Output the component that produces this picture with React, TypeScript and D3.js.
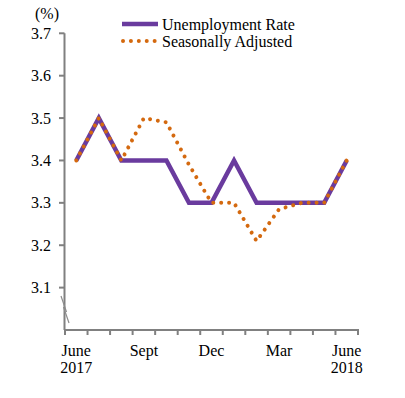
import React from "react";
import * as d3 from "d3";

const months = ["Jun17", "Jul17", "Aug17", "Sep17", "Oct17", "Nov17", "Dec17", "Jan18", "Feb18", "Mar18", "Apr18", "May18", "Jun18"];
const unemploymentRate = [3.4, 3.5, 3.4, 3.4, 3.4, 3.3, 3.3, 3.4, 3.3, 3.3, 3.3, 3.3, 3.4];
const seasonallyAdjusted = [3.4, 3.5, 3.4, 3.5, 3.49, 3.39, 3.3, 3.3, 3.21, 3.285, 3.3, 3.3, 3.4];
const yTicks = [3.1, 3.2, 3.3, 3.4, 3.5, 3.6, 3.7];
const xLabels: { month: string; lines: string[] }[] = [
  { month: "Jun17", lines: ["June", "2017"] },
  { month: "Sep17", lines: ["Sept"] },
  { month: "Dec17", lines: ["Dec"] },
  { month: "Mar18", lines: ["Mar"] },
  { month: "Jun18", lines: ["June", "2018"] },
];
const seriesNames = ["Unemployment Rate", "Seasonally Adjusted"];

const W = 405;
const H = 398;
const PURPLE = "#6A3B9E";
const ORANGE = "#D4690F";
const AXIS = "#808080";
const FONT = "'Liberation Serif', 'Times New Roman', serif";

export default function App() {
  const x = d3.scaleBand<string>().domain(months).range([65, 358]).padding(0);
  const y = d3.scaleLinear().domain([3.0, 3.7]).range([330, 33.3]);
  const cx = (m: string) => (x(m) as number) + x.bandwidth() / 2;

  const line = d3
    .line<number>()
    .x((_, i) => cx(months[i]))
    .y((d) => y(d));

  const edges = months.map((m) => x(m) as number).concat([(x(months[months.length - 1]) as number) + x.bandwidth()]);

  return (
    <svg width={W} height={H} style={{ position: "absolute", left: 0, top: 0, background: "#fff" }} fontFamily={FONT}>
      {/* y axis */}
      <line x1={64.5} x2={64.5} y1={y(3.7)} y2={y(3.0)} stroke={AXIS} strokeWidth={2} />
      {yTicks.map((t) => (
        <g key={t}>
          <line x1={59} x2={64.5} y1={y(t)} y2={y(t)} stroke={AXIS} strokeWidth={2} />
          <text x={51} y={y(t)} dy="0.35em" textAnchor="end" fontSize={16} fill="#000">
            {t.toFixed(1)}
          </text>
        </g>
      ))}
      <text x={47} y={19} textAnchor="middle" fontSize={16} fill="#000">
        (%)
      </text>
      {/* axis break */}
      <line x1={61} y1={296} x2={66.5} y2={312} stroke="#8c8c8c" strokeWidth={1.2} />
      <line x1={63.5} y1={307} x2={69} y2={323} stroke="#8c8c8c" strokeWidth={1.2} />

      {/* x axis */}
      <line x1={64} x2={edges[edges.length - 1] + 1} y1={330} y2={330} stroke={AXIS} strokeWidth={2} />
      {edges.map((e, i) => (
        <line key={i} x1={e} x2={e} y1={330} y2={335} stroke={AXIS} strokeWidth={2} />
      ))}
      {xLabels.map((l) =>
        l.lines.map((s, j) => (
          <text key={l.month + j} x={cx(l.month)} y={356 + j * 17} textAnchor="middle" fontSize={16} fill="#000">
            {s}
          </text>
        ))
      )}

      {/* series */}
      <path d={line(unemploymentRate) || ""} fill="none" stroke={PURPLE} strokeWidth={4.5} strokeLinejoin="miter" />
      <path
        d={line(seasonallyAdjusted) || ""}
        fill="none"
        stroke={ORANGE}
        strokeWidth={4}
        strokeLinecap="round"
        strokeDasharray="0.01 7.9"
        strokeLinejoin="round"
      />

      {/* legend */}
      <line x1={122} x2={158} y1={24} y2={24} stroke={PURPLE} strokeWidth={4.5} />
      <text x={162} y={29.5} fontSize={16} fill="#000">
        {seriesNames[0]}
      </text>
      <line x1={123} x2={158} y1={41} y2={41} stroke={ORANGE} strokeWidth={4} strokeLinecap="round" strokeDasharray="0.01 7.9" />
      <text x={162} y={47} fontSize={16} fill="#000">
        {seriesNames[1]}
      </text>
    </svg>
  );
}
